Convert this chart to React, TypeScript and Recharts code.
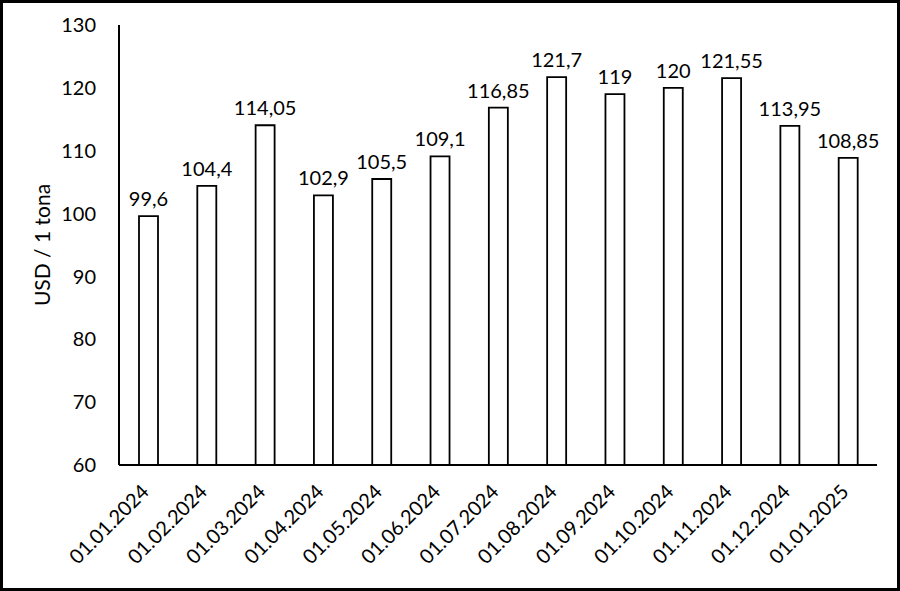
import React from "react";
import { BarChart, Bar, XAxis, YAxis, LabelList } from "recharts";

const dates = [
  "01.01.2024",
  "01.02.2024",
  "01.03.2024",
  "01.04.2024",
  "01.05.2024",
  "01.06.2024",
  "01.07.2024",
  "01.08.2024",
  "01.09.2024",
  "01.10.2024",
  "01.11.2024",
  "01.12.2024",
  "01.01.2025",
];
const prices = [
  99.6, 104.4, 114.05, 102.9, 105.5, 109.1, 116.85, 121.7, 119, 120, 121.55,
  113.95, 108.85,
];
const yTicks = [60, 70, 80, 90, 100, 110, 120, 130];

const data = dates.map((d, i) => ({ date: d, price: prices[i] }));

const font = "Lato, 'Open Sans', sans-serif";

function DateTick({ x, y, payload }: any) {
  return (
    <text
      x={x + 2}
      y={y}
      dy={20}
      textAnchor="end"
      fill="#000"
      fontSize={20}
      fontFamily={font}
      transform={`rotate(-45, ${x + 2}, ${y + 20})`}
    >
      {payload.value}
    </text>
  );
}

export default function App() {
  return (
    <div
      style={{
        position: "absolute",
        left: 0,
        top: 0,
        width: 900,
        height: 591,
        background: "#fff",
      }}
    >
      <BarChart
        width={900}
        height={591}
        data={data}
        margin={{ top: 25, right: 23, left: 0, bottom: 0 }}
        style={{ fontFamily: font }}
      >
        <XAxis
          dataKey="date"
          interval={0}
          height={126}
          tickLine={false}
          stroke="#000"
          strokeWidth={2}
          tick={<DateTick />}
        />
        <YAxis
          domain={[60, 130]}
          ticks={yTicks}
          width={119}
          tickLine={false}
          tickSize={6}
          tickMargin={17}
          stroke="#000"
          strokeWidth={2}
          allowDataOverflow
          tick={{ fill: "#000", fontSize: 20, fontFamily: font }}
          label={{
            value: "USD / 1 tona",
            angle: -90,
            position: "insideLeft",
            offset: 43,
            fill: "#000",
            fontSize: 21,
            fontFamily: font,
            style: { textAnchor: "middle" },
          }}
        />
        <Bar
          dataKey="price"
          fill="#fff"
          stroke="#000"
          strokeWidth={1.8}
          barSize={19}
          isAnimationActive={false}
        >
          <LabelList
            dataKey="price"
            position="top"
            offset={10}
            fill="#000"
            fontSize={20}
            fontFamily={font}
            formatter={(v: any) => String(v).replace(".", ",")}
          />
        </Bar>
      </BarChart>
      <div
        style={{
          position: "absolute",
          left: 0,
          top: 0,
          width: 900,
          height: 591,
          boxSizing: "border-box",
          border: "3px solid #000",
          pointerEvents: "none",
        }}
      />
    </div>
  );
}
